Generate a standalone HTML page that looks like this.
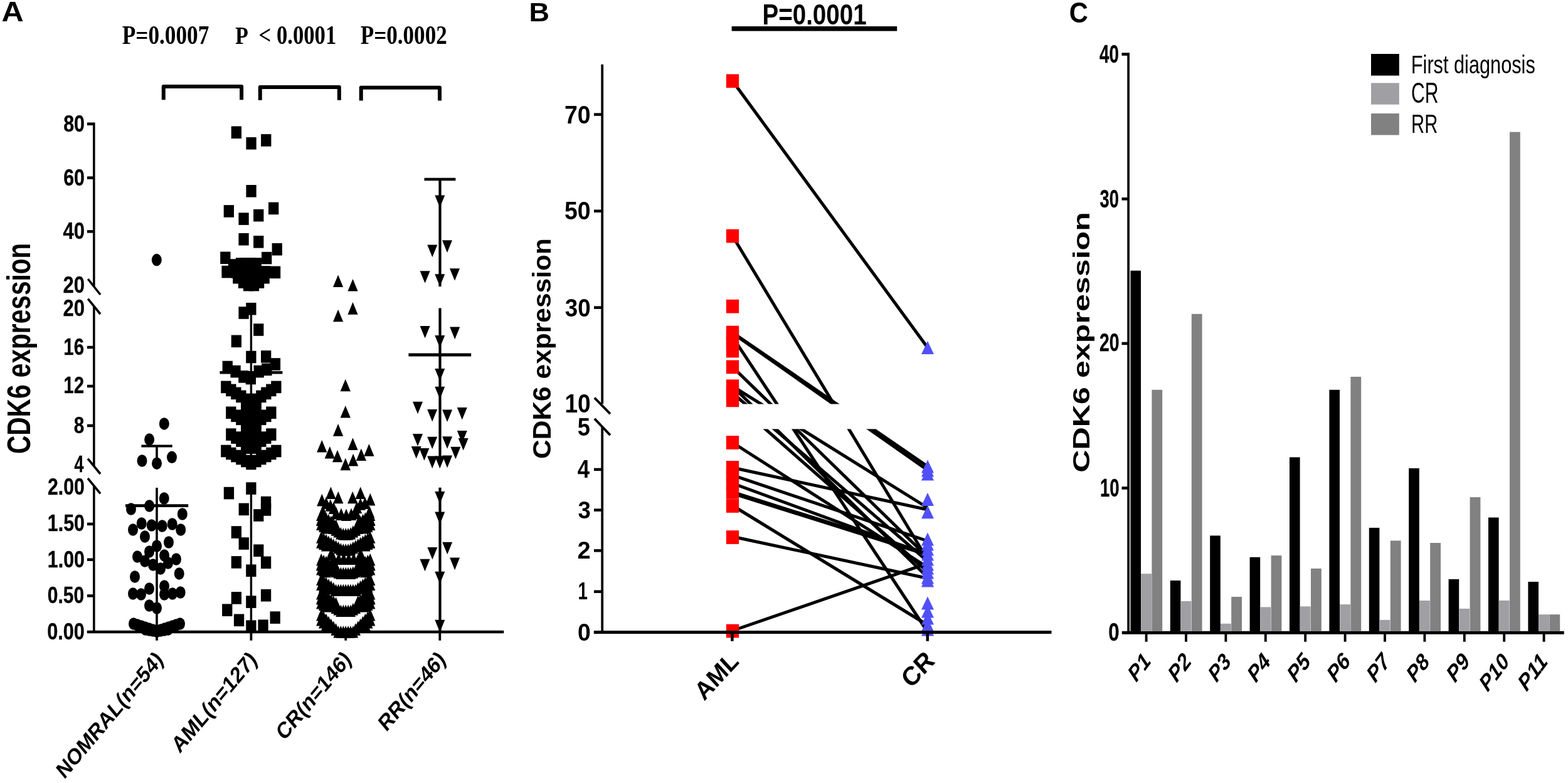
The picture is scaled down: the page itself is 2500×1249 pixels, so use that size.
<!DOCTYPE html>
<html><head><meta charset="utf-8"><title>CDK6 expression</title><style>html,body{margin:0;padding:0;background:#fff;overflow:hidden}svg{display:block}</style></head><body>
<svg width="2500" height="1249" viewBox="0 0 2500 1249">
<rect width="2500" height="1249" fill="#fff"/>
<g fill="#000">
<ellipse cx="249.8" cy="414.6" rx="8.0" ry="9.75"/>
<ellipse cx="261.8" cy="675.9" rx="8.0" ry="9.75"/>
<ellipse cx="238.1" cy="701.1" rx="8.0" ry="9.75"/>
<ellipse cx="226.5" cy="735.0" rx="8.0" ry="9.75"/>
<ellipse cx="250.0" cy="739.2" rx="8.0" ry="9.75"/>
<ellipse cx="274.0" cy="729.3" rx="8.0" ry="9.75"/>
<ellipse cx="261.7" cy="795.0" rx="8.0" ry="9.75"/>
<ellipse cx="238.1" cy="807.0" rx="8.0" ry="9.75"/>
<ellipse cx="209.0" cy="812.0" rx="8.0" ry="9.75"/>
<ellipse cx="290.8" cy="820.0" rx="8.0" ry="9.75"/>
<ellipse cx="225.7" cy="835.0" rx="8.0" ry="9.75"/>
<ellipse cx="241.7" cy="838.0" rx="8.0" ry="9.75"/>
<ellipse cx="258.7" cy="839.0" rx="8.0" ry="9.75"/>
<ellipse cx="274.7" cy="836.0" rx="8.0" ry="9.75"/>
<ellipse cx="212.0" cy="845.0" rx="8.0" ry="9.75"/>
<ellipse cx="288.2" cy="845.0" rx="8.0" ry="9.75"/>
<ellipse cx="231.0" cy="856.0" rx="8.0" ry="9.75"/>
<ellipse cx="269.0" cy="865.0" rx="8.0" ry="9.75"/>
<ellipse cx="250.0" cy="871.0" rx="8.0" ry="9.75"/>
<ellipse cx="238.0" cy="880.0" rx="8.0" ry="9.75"/>
<ellipse cx="219.0" cy="888.0" rx="8.0" ry="9.75"/>
<ellipse cx="262.0" cy="886.0" rx="8.0" ry="9.75"/>
<ellipse cx="281.0" cy="892.0" rx="8.0" ry="9.75"/>
<ellipse cx="231.0" cy="895.0" rx="8.0" ry="9.75"/>
<ellipse cx="244.0" cy="901.0" rx="8.0" ry="9.75"/>
<ellipse cx="268.0" cy="898.0" rx="8.0" ry="9.75"/>
<ellipse cx="256.0" cy="907.0" rx="8.0" ry="9.75"/>
<ellipse cx="215.0" cy="920.0" rx="8.0" ry="9.75"/>
<ellipse cx="285.7" cy="915.0" rx="8.0" ry="9.75"/>
<ellipse cx="238.0" cy="939.0" rx="8.0" ry="9.75"/>
<ellipse cx="262.0" cy="935.0" rx="8.0" ry="9.75"/>
<ellipse cx="212.0" cy="947.0" rx="8.0" ry="9.75"/>
<ellipse cx="225.0" cy="948.0" rx="8.0" ry="9.75"/>
<ellipse cx="262.0" cy="948.0" rx="8.0" ry="9.75"/>
<ellipse cx="275.0" cy="947.0" rx="8.0" ry="9.75"/>
<ellipse cx="287.7" cy="945.0" rx="8.0" ry="9.75"/>
<ellipse cx="238.0" cy="966.0" rx="8.0" ry="9.75"/>
<ellipse cx="250.0" cy="970.0" rx="8.0" ry="9.75"/>
<ellipse cx="213.0" cy="995.0" rx="8.0" ry="9.75"/>
<ellipse cx="219.2" cy="997.0" rx="8.0" ry="9.75"/>
<ellipse cx="225.3" cy="999.0" rx="8.0" ry="9.75"/>
<ellipse cx="231.5" cy="1001.0" rx="8.0" ry="9.75"/>
<ellipse cx="237.7" cy="1003.0" rx="8.0" ry="9.75"/>
<ellipse cx="243.8" cy="1005.0" rx="8.0" ry="9.75"/>
<ellipse cx="250.0" cy="1007.0" rx="8.0" ry="9.75"/>
<ellipse cx="256.2" cy="1005.0" rx="8.0" ry="9.75"/>
<ellipse cx="262.3" cy="1003.0" rx="8.0" ry="9.75"/>
<ellipse cx="268.5" cy="1001.0" rx="8.0" ry="9.75"/>
<ellipse cx="274.7" cy="999.0" rx="8.0" ry="9.75"/>
<ellipse cx="280.8" cy="997.0" rx="8.0" ry="9.75"/>
<ellipse cx="287.0" cy="995.0" rx="8.0" ry="9.75"/>
<ellipse cx="232.0" cy="1004.0" rx="8.0" ry="9.75"/>
<ellipse cx="238.0" cy="1005.0" rx="8.0" ry="9.75"/>
<ellipse cx="244.0" cy="1006.0" rx="8.0" ry="9.75"/>
<ellipse cx="250.0" cy="1007.0" rx="8.0" ry="9.75"/>
<ellipse cx="256.0" cy="1006.0" rx="8.0" ry="9.75"/>
<ellipse cx="262.0" cy="1005.0" rx="8.0" ry="9.75"/>
<ellipse cx="268.0" cy="1004.0" rx="8.0" ry="9.75"/>
<rect x="368.7" y="201.4" width="16.3" height="19.6"/>
<rect x="392.4" y="218.9" width="16.3" height="19.6"/>
<rect x="416.1" y="214.0" width="16.3" height="19.6"/>
<rect x="392.4" y="295.0" width="16.3" height="19.6"/>
<rect x="356.7" y="327.1" width="16.3" height="19.6"/>
<rect x="380.4" y="339.3" width="16.3" height="19.6"/>
<rect x="404.1" y="333.8" width="16.3" height="19.6"/>
<rect x="428.0" y="322.6" width="16.3" height="19.6"/>
<rect x="380.4" y="371.9" width="16.3" height="19.6"/>
<rect x="404.1" y="376.0" width="16.3" height="19.6"/>
<rect x="433.6" y="387.9" width="16.3" height="19.6"/>
<rect x="351.2" y="401.5" width="16.3" height="19.6"/>
<rect x="417.0" y="401.8" width="16.3" height="19.6"/>
<rect x="363.9" y="413.2" width="16.3" height="19.6"/>
<rect x="375.9" y="411.2" width="16.3" height="19.6"/>
<rect x="383.9" y="411.2" width="16.3" height="19.6"/>
<rect x="391.9" y="411.2" width="16.3" height="19.6"/>
<rect x="400.6" y="411.2" width="16.3" height="19.6"/>
<rect x="353.4" y="423.8" width="16.3" height="19.6"/>
<rect x="368.9" y="424.2" width="16.3" height="19.6"/>
<rect x="384.9" y="424.2" width="16.3" height="19.6"/>
<rect x="400.9" y="424.2" width="16.3" height="19.6"/>
<rect x="414.9" y="424.2" width="16.3" height="19.6"/>
<rect x="430.9" y="424.6" width="16.3" height="19.6"/>
<rect x="371.2" y="432.9" width="16.3" height="19.6"/>
<rect x="413.5" y="432.9" width="16.3" height="19.6"/>
<rect x="379.9" y="440.3" width="16.3" height="19.6"/>
<rect x="404.9" y="440.3" width="16.3" height="19.6"/>
<rect x="387.9" y="444.8" width="16.3" height="19.6"/>
<rect x="396.8" y="444.8" width="16.3" height="19.6"/>
<rect x="391.9" y="430.2" width="16.3" height="19.6"/>
<rect x="392.2" y="482.9" width="16.3" height="19.6"/>
<rect x="380.4" y="489.2" width="16.3" height="19.6"/>
<rect x="404.1" y="516.2" width="16.3" height="19.6"/>
<rect x="368.7" y="534.5" width="16.3" height="19.6"/>
<rect x="392.2" y="559.7" width="16.3" height="19.6"/>
<rect x="416.0" y="559.1" width="16.3" height="19.6"/>
<rect x="430.8" y="571.2" width="16.3" height="19.6"/>
<rect x="354.6" y="575.7" width="16.3" height="19.6"/>
<rect x="367.4" y="582.8" width="16.3" height="19.6"/>
<rect x="380.2" y="591.1" width="16.3" height="19.6"/>
<rect x="391.7" y="593.7" width="16.3" height="19.6"/>
<rect x="404.5" y="582.8" width="16.3" height="19.6"/>
<rect x="417.2" y="579.6" width="16.3" height="19.6"/>
<rect x="352.2" y="607.6" width="16.3" height="19.6"/>
<rect x="432.2" y="607.6" width="16.3" height="19.6"/>
<rect x="360.2" y="612.6" width="16.3" height="19.6"/>
<rect x="424.2" y="612.6" width="16.3" height="19.6"/>
<rect x="368.2" y="617.6" width="16.3" height="19.6"/>
<rect x="416.2" y="617.6" width="16.3" height="19.6"/>
<rect x="376.2" y="622.6" width="16.3" height="19.6"/>
<rect x="408.2" y="622.6" width="16.3" height="19.6"/>
<rect x="384.2" y="627.6" width="16.3" height="19.6"/>
<rect x="400.2" y="627.6" width="16.3" height="19.6"/>
<rect x="392.2" y="632.6" width="16.3" height="19.6"/>
<rect x="360.2" y="648.5" width="16.3" height="19.6"/>
<rect x="424.2" y="648.5" width="16.3" height="19.6"/>
<rect x="368.2" y="653.5" width="16.3" height="19.6"/>
<rect x="416.2" y="653.5" width="16.3" height="19.6"/>
<rect x="376.2" y="658.5" width="16.3" height="19.6"/>
<rect x="408.2" y="658.5" width="16.3" height="19.6"/>
<rect x="384.2" y="663.5" width="16.3" height="19.6"/>
<rect x="400.2" y="663.5" width="16.3" height="19.6"/>
<rect x="392.2" y="668.5" width="16.3" height="19.6"/>
<rect x="360.2" y="683.3" width="16.3" height="19.6"/>
<rect x="424.2" y="683.3" width="16.3" height="19.6"/>
<rect x="368.2" y="688.3" width="16.3" height="19.6"/>
<rect x="416.2" y="688.3" width="16.3" height="19.6"/>
<rect x="376.2" y="693.3" width="16.3" height="19.6"/>
<rect x="408.2" y="693.3" width="16.3" height="19.6"/>
<rect x="384.2" y="698.3" width="16.3" height="19.6"/>
<rect x="400.2" y="698.3" width="16.3" height="19.6"/>
<rect x="392.2" y="703.3" width="16.3" height="19.6"/>
<rect x="352.2" y="709.7" width="16.3" height="19.6"/>
<rect x="432.2" y="709.7" width="16.3" height="19.6"/>
<rect x="360.2" y="713.7" width="16.3" height="19.6"/>
<rect x="424.2" y="713.7" width="16.3" height="19.6"/>
<rect x="368.2" y="717.7" width="16.3" height="19.6"/>
<rect x="416.2" y="717.7" width="16.3" height="19.6"/>
<rect x="376.2" y="721.7" width="16.3" height="19.6"/>
<rect x="408.2" y="721.7" width="16.3" height="19.6"/>
<rect x="384.2" y="725.7" width="16.3" height="19.6"/>
<rect x="400.2" y="725.7" width="16.3" height="19.6"/>
<rect x="392.2" y="729.7" width="16.3" height="19.6"/>
<rect x="384.2" y="632.2" width="16.3" height="19.6"/>
<rect x="392.2" y="632.2" width="16.3" height="19.6"/>
<rect x="400.2" y="632.2" width="16.3" height="19.6"/>
<rect x="384.2" y="640.2" width="16.3" height="19.6"/>
<rect x="392.2" y="640.2" width="16.3" height="19.6"/>
<rect x="400.2" y="640.2" width="16.3" height="19.6"/>
<rect x="384.2" y="648.2" width="16.3" height="19.6"/>
<rect x="392.2" y="648.2" width="16.3" height="19.6"/>
<rect x="400.2" y="648.2" width="16.3" height="19.6"/>
<rect x="384.2" y="656.2" width="16.3" height="19.6"/>
<rect x="392.2" y="656.2" width="16.3" height="19.6"/>
<rect x="400.2" y="656.2" width="16.3" height="19.6"/>
<rect x="384.2" y="664.2" width="16.3" height="19.6"/>
<rect x="392.2" y="664.2" width="16.3" height="19.6"/>
<rect x="400.2" y="664.2" width="16.3" height="19.6"/>
<rect x="384.2" y="672.2" width="16.3" height="19.6"/>
<rect x="392.2" y="672.2" width="16.3" height="19.6"/>
<rect x="400.2" y="672.2" width="16.3" height="19.6"/>
<rect x="384.2" y="680.2" width="16.3" height="19.6"/>
<rect x="392.2" y="680.2" width="16.3" height="19.6"/>
<rect x="400.2" y="680.2" width="16.3" height="19.6"/>
<rect x="384.2" y="688.2" width="16.3" height="19.6"/>
<rect x="392.2" y="688.2" width="16.3" height="19.6"/>
<rect x="400.2" y="688.2" width="16.3" height="19.6"/>
<rect x="384.2" y="696.2" width="16.3" height="19.6"/>
<rect x="392.2" y="696.2" width="16.3" height="19.6"/>
<rect x="400.2" y="696.2" width="16.3" height="19.6"/>
<rect x="384.2" y="704.2" width="16.3" height="19.6"/>
<rect x="392.2" y="704.2" width="16.3" height="19.6"/>
<rect x="400.2" y="704.2" width="16.3" height="19.6"/>
<rect x="356.8" y="776.8" width="16.3" height="19.6"/>
<rect x="392.2" y="769.3" width="16.3" height="19.6"/>
<rect x="415.9" y="791.8" width="16.3" height="19.6"/>
<rect x="380.6" y="802.6" width="16.3" height="19.6"/>
<rect x="415.9" y="803.2" width="16.3" height="19.6"/>
<rect x="404.1" y="812.2" width="16.3" height="19.6"/>
<rect x="368.7" y="839.2" width="16.3" height="19.6"/>
<rect x="380.6" y="857.2" width="16.3" height="19.6"/>
<rect x="404.1" y="868.4" width="16.3" height="19.6"/>
<rect x="368.7" y="887.1" width="16.3" height="19.6"/>
<rect x="415.9" y="887.5" width="16.3" height="19.6"/>
<rect x="392.2" y="900.4" width="16.3" height="19.6"/>
<rect x="415.9" y="939.9" width="16.3" height="19.6"/>
<rect x="368.7" y="944.1" width="16.3" height="19.6"/>
<rect x="392.2" y="950.3" width="16.3" height="19.6"/>
<rect x="354.1" y="963.4" width="16.3" height="19.6"/>
<rect x="430.5" y="975.3" width="16.3" height="19.6"/>
<rect x="372.9" y="979.5" width="16.3" height="19.6"/>
<rect x="392.2" y="989.4" width="16.3" height="19.6"/>
<rect x="411.4" y="988.4" width="16.3" height="19.6"/>
<path d="M539.1,438.5 L547.2,458.1 L531.0,458.1Z"/>
<path d="M562.5,444.9 L570.6,464.5 L554.4,464.5Z"/>
<path d="M562.5,482.1 L570.6,501.7 L554.4,501.7Z"/>
<path d="M539.1,493.7 L547.2,513.3 L531.0,513.3Z"/>
<path d="M550.8,604.7 L558.9,624.3 L542.6,624.3Z"/>
<path d="M550.8,646.9 L558.9,666.5 L542.6,666.5Z"/>
<path d="M539.1,676.1 L547.2,695.7 L531.0,695.7Z"/>
<path d="M513.2,702.0 L521.4,721.6 L505.1,721.6Z"/>
<path d="M562.5,698.3 L570.6,717.9 L554.4,717.9Z"/>
<path d="M525.8,711.9 L533.9,731.5 L517.6,731.5Z"/>
<path d="M538.0,717.7 L546.1,737.3 L529.9,737.3Z"/>
<path d="M588.4,708.1 L596.5,727.7 L580.2,727.7Z"/>
<path d="M575.9,715.5 L584.0,735.1 L567.8,735.1Z"/>
<path d="M563.1,723.8 L571.2,743.4 L555.0,743.4Z"/>
<path d="M550.8,730.6 L558.9,750.2 L542.6,750.2Z"/>
<path d="M512.2,818.4 L520.4,838.0 L504.1,838.0Z"/>
<path d="M516.1,821.2 L524.2,840.8 L508.0,840.8Z"/>
<path d="M520.0,824.0 L528.1,843.6 L511.9,843.6Z"/>
<path d="M523.9,826.8 L532.1,846.4 L515.8,846.4Z"/>
<path d="M527.8,829.6 L536.0,849.2 L519.7,849.2Z"/>
<path d="M531.7,832.4 L539.9,852.0 L523.6,852.0Z"/>
<path d="M535.6,835.2 L543.8,854.8 L527.5,854.8Z"/>
<path d="M539.5,838.0 L547.6,857.6 L531.4,857.6Z"/>
<path d="M543.4,840.8 L551.6,860.4 L535.3,860.4Z"/>
<path d="M547.3,841.9 L555.5,861.5 L539.2,861.5Z"/>
<path d="M551.2,841.9 L559.4,861.5 L543.1,861.5Z"/>
<path d="M555.1,841.9 L563.2,861.5 L547.0,861.5Z"/>
<path d="M559.0,840.8 L567.1,860.4 L550.9,860.4Z"/>
<path d="M562.9,838.0 L571.1,857.6 L554.8,857.6Z"/>
<path d="M566.8,835.2 L575.0,854.8 L558.7,854.8Z"/>
<path d="M570.7,832.4 L578.9,852.0 L562.6,852.0Z"/>
<path d="M574.6,829.6 L582.8,849.2 L566.5,849.2Z"/>
<path d="M578.5,826.8 L586.6,846.4 L570.4,846.4Z"/>
<path d="M582.4,824.0 L590.6,843.6 L574.3,843.6Z"/>
<path d="M586.3,821.2 L594.5,840.8 L578.2,840.8Z"/>
<path d="M590.2,818.4 L598.4,838.0 L582.1,838.0Z"/>
<path d="M512.2,826.4 L520.4,846.0 L504.1,846.0Z"/>
<path d="M516.1,829.2 L524.2,848.8 L508.0,848.8Z"/>
<path d="M520.0,832.0 L528.1,851.6 L511.9,851.6Z"/>
<path d="M582.4,832.0 L590.6,851.6 L574.3,851.6Z"/>
<path d="M586.3,829.2 L594.5,848.8 L578.2,848.8Z"/>
<path d="M590.2,826.4 L598.4,846.0 L582.1,846.0Z"/>
<path d="M512.2,847.1 L520.4,866.7 L504.1,866.7Z"/>
<path d="M516.1,849.5 L524.2,869.1 L508.0,869.1Z"/>
<path d="M520.0,851.8 L528.1,871.4 L511.9,871.4Z"/>
<path d="M523.9,854.2 L532.1,873.8 L515.8,873.8Z"/>
<path d="M527.8,856.5 L536.0,876.1 L519.7,876.1Z"/>
<path d="M531.7,858.9 L539.9,878.5 L523.6,878.5Z"/>
<path d="M535.6,861.2 L543.8,880.8 L527.5,880.8Z"/>
<path d="M539.5,863.6 L547.6,883.2 L531.4,883.2Z"/>
<path d="M543.4,866.0 L551.6,885.6 L535.3,885.6Z"/>
<path d="M547.3,866.9 L555.5,886.5 L539.2,886.5Z"/>
<path d="M551.2,866.9 L559.4,886.5 L543.1,886.5Z"/>
<path d="M555.1,866.9 L563.2,886.5 L547.0,886.5Z"/>
<path d="M559.0,866.0 L567.1,885.6 L550.9,885.6Z"/>
<path d="M562.9,863.6 L571.1,883.2 L554.8,883.2Z"/>
<path d="M566.8,861.2 L575.0,880.8 L558.7,880.8Z"/>
<path d="M570.7,858.9 L578.9,878.5 L562.6,878.5Z"/>
<path d="M574.6,856.5 L582.8,876.1 L566.5,876.1Z"/>
<path d="M578.5,854.2 L586.6,873.8 L570.4,873.8Z"/>
<path d="M582.4,851.8 L590.6,871.4 L574.3,871.4Z"/>
<path d="M586.3,849.5 L594.5,869.1 L578.2,869.1Z"/>
<path d="M590.2,847.1 L598.4,866.7 L582.1,866.7Z"/>
<path d="M512.2,855.1 L520.4,874.7 L504.1,874.7Z"/>
<path d="M516.1,857.5 L524.2,877.1 L508.0,877.1Z"/>
<path d="M520.0,859.8 L528.1,879.4 L511.9,879.4Z"/>
<path d="M582.4,859.8 L590.6,879.4 L574.3,879.4Z"/>
<path d="M586.3,857.5 L594.5,877.1 L578.2,877.1Z"/>
<path d="M590.2,855.1 L598.4,874.7 L582.1,874.7Z"/>
<path d="M512.2,889.8 L520.4,909.4 L504.1,909.4Z"/>
<path d="M516.1,891.7 L524.2,911.3 L508.0,911.3Z"/>
<path d="M520.0,893.6 L528.1,913.2 L511.9,913.2Z"/>
<path d="M523.9,895.6 L532.1,915.2 L515.8,915.2Z"/>
<path d="M527.8,897.5 L536.0,917.1 L519.7,917.1Z"/>
<path d="M531.7,899.4 L539.9,919.0 L523.6,919.0Z"/>
<path d="M535.6,901.3 L543.8,920.9 L527.5,920.9Z"/>
<path d="M539.5,903.2 L547.6,922.8 L531.4,922.8Z"/>
<path d="M543.4,904.4 L551.6,924.0 L535.3,924.0Z"/>
<path d="M547.3,904.4 L555.5,924.0 L539.2,924.0Z"/>
<path d="M551.2,904.4 L559.4,924.0 L543.1,924.0Z"/>
<path d="M555.1,904.4 L563.2,924.0 L547.0,924.0Z"/>
<path d="M559.0,904.4 L567.1,924.0 L550.9,924.0Z"/>
<path d="M562.9,903.2 L571.1,922.8 L554.8,922.8Z"/>
<path d="M566.8,901.3 L575.0,920.9 L558.7,920.9Z"/>
<path d="M570.7,899.4 L578.9,919.0 L562.6,919.0Z"/>
<path d="M574.6,897.5 L582.8,917.1 L566.5,917.1Z"/>
<path d="M578.5,895.6 L586.6,915.2 L570.4,915.2Z"/>
<path d="M582.4,893.6 L590.6,913.2 L574.3,913.2Z"/>
<path d="M586.3,891.7 L594.5,911.3 L578.2,911.3Z"/>
<path d="M590.2,889.8 L598.4,909.4 L582.1,909.4Z"/>
<path d="M512.2,897.8 L520.4,917.4 L504.1,917.4Z"/>
<path d="M516.1,899.7 L524.2,919.3 L508.0,919.3Z"/>
<path d="M520.0,901.6 L528.1,921.2 L511.9,921.2Z"/>
<path d="M582.4,901.6 L590.6,921.2 L574.3,921.2Z"/>
<path d="M586.3,899.7 L594.5,919.3 L578.2,919.3Z"/>
<path d="M590.2,897.8 L598.4,917.4 L582.1,917.4Z"/>
<path d="M512.2,914.4 L520.4,934.0 L504.1,934.0Z"/>
<path d="M516.1,917.2 L524.2,936.8 L508.0,936.8Z"/>
<path d="M520.0,920.1 L528.1,939.7 L511.9,939.7Z"/>
<path d="M523.9,922.9 L532.1,942.5 L515.8,942.5Z"/>
<path d="M527.8,925.7 L536.0,945.3 L519.7,945.3Z"/>
<path d="M531.7,928.6 L539.9,948.2 L523.6,948.2Z"/>
<path d="M535.6,931.4 L543.8,951.0 L527.5,951.0Z"/>
<path d="M539.5,931.4 L547.6,951.0 L531.4,951.0Z"/>
<path d="M543.4,931.4 L551.6,951.0 L535.3,951.0Z"/>
<path d="M547.3,931.4 L555.5,951.0 L539.2,951.0Z"/>
<path d="M551.2,931.4 L559.4,951.0 L543.1,951.0Z"/>
<path d="M555.1,931.4 L563.2,951.0 L547.0,951.0Z"/>
<path d="M559.0,931.4 L567.1,951.0 L550.9,951.0Z"/>
<path d="M562.9,931.4 L571.1,951.0 L554.8,951.0Z"/>
<path d="M566.8,931.4 L575.0,951.0 L558.7,951.0Z"/>
<path d="M570.7,928.6 L578.9,948.2 L562.6,948.2Z"/>
<path d="M574.6,925.7 L582.8,945.3 L566.5,945.3Z"/>
<path d="M578.5,922.9 L586.6,942.5 L570.4,942.5Z"/>
<path d="M582.4,920.1 L590.6,939.7 L574.3,939.7Z"/>
<path d="M586.3,917.2 L594.5,936.8 L578.2,936.8Z"/>
<path d="M590.2,914.4 L598.4,934.0 L582.1,934.0Z"/>
<path d="M512.2,922.4 L520.4,942.0 L504.1,942.0Z"/>
<path d="M516.1,925.2 L524.2,944.8 L508.0,944.8Z"/>
<path d="M520.0,928.1 L528.1,947.7 L511.9,947.7Z"/>
<path d="M582.4,928.1 L590.6,947.7 L574.3,947.7Z"/>
<path d="M586.3,925.2 L594.5,944.8 L578.2,944.8Z"/>
<path d="M590.2,922.4 L598.4,942.0 L582.1,942.0Z"/>
<path d="M512.2,943.9 L520.4,963.5 L504.1,963.5Z"/>
<path d="M516.1,946.5 L524.2,966.1 L508.0,966.1Z"/>
<path d="M520.0,949.0 L528.1,968.6 L511.9,968.6Z"/>
<path d="M523.9,951.6 L532.1,971.2 L515.8,971.2Z"/>
<path d="M527.8,954.2 L536.0,973.8 L519.7,973.8Z"/>
<path d="M531.7,956.7 L539.9,976.3 L523.6,976.3Z"/>
<path d="M535.6,959.3 L543.8,978.9 L527.5,978.9Z"/>
<path d="M539.5,961.8 L547.6,981.4 L531.4,981.4Z"/>
<path d="M543.4,964.4 L551.6,984.0 L535.3,984.0Z"/>
<path d="M547.3,964.4 L555.5,984.0 L539.2,984.0Z"/>
<path d="M551.2,964.4 L559.4,984.0 L543.1,984.0Z"/>
<path d="M555.1,964.4 L563.2,984.0 L547.0,984.0Z"/>
<path d="M559.0,964.4 L567.1,984.0 L550.9,984.0Z"/>
<path d="M562.9,961.8 L571.1,981.4 L554.8,981.4Z"/>
<path d="M566.8,959.3 L575.0,978.9 L558.7,978.9Z"/>
<path d="M570.7,956.7 L578.9,976.3 L562.6,976.3Z"/>
<path d="M574.6,954.2 L582.8,973.8 L566.5,973.8Z"/>
<path d="M578.5,951.6 L586.6,971.2 L570.4,971.2Z"/>
<path d="M582.4,949.0 L590.6,968.6 L574.3,968.6Z"/>
<path d="M586.3,946.5 L594.5,966.1 L578.2,966.1Z"/>
<path d="M590.2,943.9 L598.4,963.5 L582.1,963.5Z"/>
<path d="M512.2,951.9 L520.4,971.5 L504.1,971.5Z"/>
<path d="M516.1,954.5 L524.2,974.1 L508.0,974.1Z"/>
<path d="M520.0,957.0 L528.1,976.6 L511.9,976.6Z"/>
<path d="M582.4,957.0 L590.6,976.6 L574.3,976.6Z"/>
<path d="M586.3,954.5 L594.5,974.1 L578.2,974.1Z"/>
<path d="M590.2,951.9 L598.4,971.5 L582.1,971.5Z"/>
<path d="M512.2,970.9 L520.4,990.5 L504.1,990.5Z"/>
<path d="M516.1,974.8 L524.2,994.4 L508.0,994.4Z"/>
<path d="M520.0,978.6 L528.1,998.2 L511.9,998.2Z"/>
<path d="M523.9,982.5 L532.1,1002.1 L515.8,1002.1Z"/>
<path d="M527.8,986.4 L536.0,1006.0 L519.7,1006.0Z"/>
<path d="M531.7,990.3 L539.9,1009.9 L523.6,1009.9Z"/>
<path d="M535.6,994.1 L543.8,1013.7 L527.5,1013.7Z"/>
<path d="M539.5,998.0 L547.6,1017.6 L531.4,1017.6Z"/>
<path d="M543.4,998.0 L551.6,1017.6 L535.3,1017.6Z"/>
<path d="M547.3,998.0 L555.5,1017.6 L539.2,1017.6Z"/>
<path d="M551.2,998.0 L559.4,1017.6 L543.1,1017.6Z"/>
<path d="M555.1,998.0 L563.2,1017.6 L547.0,1017.6Z"/>
<path d="M559.0,998.0 L567.1,1017.6 L550.9,1017.6Z"/>
<path d="M562.9,998.0 L571.1,1017.6 L554.8,1017.6Z"/>
<path d="M566.8,994.1 L575.0,1013.7 L558.7,1013.7Z"/>
<path d="M570.7,990.3 L578.9,1009.9 L562.6,1009.9Z"/>
<path d="M574.6,986.4 L582.8,1006.0 L566.5,1006.0Z"/>
<path d="M578.5,982.5 L586.6,1002.1 L570.4,1002.1Z"/>
<path d="M582.4,978.6 L590.6,998.2 L574.3,998.2Z"/>
<path d="M586.3,974.8 L594.5,994.4 L578.2,994.4Z"/>
<path d="M590.2,970.9 L598.4,990.5 L582.1,990.5Z"/>
<path d="M512.2,978.9 L520.4,998.5 L504.1,998.5Z"/>
<path d="M516.1,982.8 L524.2,1002.4 L508.0,1002.4Z"/>
<path d="M520.0,986.6 L528.1,1006.2 L511.9,1006.2Z"/>
<path d="M582.4,986.6 L590.6,1006.2 L574.3,1006.2Z"/>
<path d="M586.3,982.8 L594.5,1002.4 L578.2,1002.4Z"/>
<path d="M590.2,978.9 L598.4,998.5 L582.1,998.5Z"/>
<path d="M513.3,787.8 L521.4,807.4 L505.1,807.4Z"/>
<path d="M527.4,776.4 L535.5,796.0 L519.2,796.0Z"/>
<path d="M539.3,783.7 L547.4,803.3 L531.1,803.3Z"/>
<path d="M562.2,783.7 L570.4,803.3 L554.1,803.3Z"/>
<path d="M574.7,776.4 L582.9,796.0 L566.6,796.0Z"/>
<path d="M590.3,786.8 L598.4,806.4 L582.1,806.4Z"/>
<path d="M520.0,792.4 L528.1,812.0 L511.9,812.0Z"/>
<path d="M526.8,796.2 L534.9,815.8 L518.6,815.8Z"/>
<path d="M532.0,800.4 L540.1,820.0 L523.9,820.0Z"/>
<path d="M574.7,794.1 L582.9,813.7 L566.6,813.7Z"/>
<path d="M582.0,792.4 L590.1,812.0 L573.9,812.0Z"/>
<path d="M569.0,799.4 L577.1,819.0 L560.9,819.0Z"/>
<path d="M536.0,808.6 L544.1,828.2 L527.9,828.2Z"/>
<path d="M544.0,810.4 L552.1,830.0 L535.9,830.0Z"/>
<path d="M552.0,811.4 L560.1,831.0 L543.9,831.0Z"/>
<path d="M560.0,810.4 L568.1,830.0 L551.9,830.0Z"/>
<path d="M568.0,808.6 L576.1,828.2 L559.9,828.2Z"/>
<path d="M515.0,806.4 L523.1,826.0 L506.9,826.0Z"/>
<path d="M589.0,806.4 L597.1,826.0 L580.9,826.0Z"/>
<path d="M532.0,881.4 L540.1,901.0 L523.9,901.0Z"/>
<path d="M540.0,881.4 L548.1,901.0 L531.9,901.0Z"/>
<path d="M548.0,881.4 L556.1,901.0 L539.9,901.0Z"/>
<path d="M556.0,881.4 L564.1,901.0 L547.9,901.0Z"/>
<path d="M564.0,881.4 L572.1,901.0 L555.9,901.0Z"/>
<path d="M572.0,881.4 L580.1,901.0 L563.9,901.0Z"/>
<path d="M528.0,873.4 L536.1,893.0 L519.9,893.0Z"/>
<path d="M575.0,873.4 L583.1,893.0 L566.9,893.0Z"/>
<path d="M512.2,811.4 L520.4,831.0 L504.1,831.0Z"/>
<path d="M516.1,814.2 L524.2,833.8 L508.0,833.8Z"/>
<path d="M520.0,817.0 L528.1,836.6 L511.9,836.6Z"/>
<path d="M523.9,819.8 L532.1,839.4 L515.8,839.4Z"/>
<path d="M527.8,822.6 L536.0,842.2 L519.7,842.2Z"/>
<path d="M531.7,825.4 L539.9,845.0 L523.6,845.0Z"/>
<path d="M535.6,828.2 L543.8,847.8 L527.5,847.8Z"/>
<path d="M570.7,825.4 L578.9,845.0 L562.6,845.0Z"/>
<path d="M574.6,822.6 L582.8,842.2 L566.5,842.2Z"/>
<path d="M578.5,819.8 L586.6,839.4 L570.4,839.4Z"/>
<path d="M582.4,817.0 L590.6,836.6 L574.3,836.6Z"/>
<path d="M586.3,814.2 L594.5,833.8 L578.2,833.8Z"/>
<path d="M590.2,811.4 L598.4,831.0 L582.1,831.0Z"/>
<path d="M512.2,819.4 L520.4,839.0 L504.1,839.0Z"/>
<path d="M516.1,822.2 L524.2,841.8 L508.0,841.8Z"/>
<path d="M520.0,825.0 L528.1,844.6 L511.9,844.6Z"/>
<path d="M582.4,825.0 L590.6,844.6 L574.3,844.6Z"/>
<path d="M586.3,822.2 L594.5,841.8 L578.2,841.8Z"/>
<path d="M590.2,819.4 L598.4,839.0 L582.1,839.0Z"/>
<path d="M512.2,882.8 L520.4,902.4 L504.1,902.4Z"/>
<path d="M516.1,884.7 L524.2,904.3 L508.0,904.3Z"/>
<path d="M520.0,886.6 L528.1,906.2 L511.9,906.2Z"/>
<path d="M523.9,888.6 L532.1,908.2 L515.8,908.2Z"/>
<path d="M527.8,890.5 L536.0,910.1 L519.7,910.1Z"/>
<path d="M531.7,892.4 L539.9,912.0 L523.6,912.0Z"/>
<path d="M535.6,894.3 L543.8,913.9 L527.5,913.9Z"/>
<path d="M570.7,892.4 L578.9,912.0 L562.6,912.0Z"/>
<path d="M574.6,890.5 L582.8,910.1 L566.5,910.1Z"/>
<path d="M578.5,888.6 L586.6,908.2 L570.4,908.2Z"/>
<path d="M582.4,886.6 L590.6,906.2 L574.3,906.2Z"/>
<path d="M586.3,884.7 L594.5,904.3 L578.2,904.3Z"/>
<path d="M590.2,882.8 L598.4,902.4 L582.1,902.4Z"/>
<path d="M512.2,890.8 L520.4,910.4 L504.1,910.4Z"/>
<path d="M516.1,892.7 L524.2,912.3 L508.0,912.3Z"/>
<path d="M520.0,894.6 L528.1,914.2 L511.9,914.2Z"/>
<path d="M582.4,894.6 L590.6,914.2 L574.3,914.2Z"/>
<path d="M586.3,892.7 L594.5,912.3 L578.2,912.3Z"/>
<path d="M590.2,890.8 L598.4,910.4 L582.1,910.4Z"/>
<path d="M512.2,936.9 L520.4,956.5 L504.1,956.5Z"/>
<path d="M516.1,939.5 L524.2,959.1 L508.0,959.1Z"/>
<path d="M520.0,942.0 L528.1,961.6 L511.9,961.6Z"/>
<path d="M523.9,944.6 L532.1,964.2 L515.8,964.2Z"/>
<path d="M527.8,947.2 L536.0,966.8 L519.7,966.8Z"/>
<path d="M531.7,949.7 L539.9,969.3 L523.6,969.3Z"/>
<path d="M535.6,952.3 L543.8,971.9 L527.5,971.9Z"/>
<path d="M570.7,949.7 L578.9,969.3 L562.6,969.3Z"/>
<path d="M574.6,947.2 L582.8,966.8 L566.5,966.8Z"/>
<path d="M578.5,944.6 L586.6,964.2 L570.4,964.2Z"/>
<path d="M582.4,942.0 L590.6,961.6 L574.3,961.6Z"/>
<path d="M586.3,939.5 L594.5,959.1 L578.2,959.1Z"/>
<path d="M590.2,936.9 L598.4,956.5 L582.1,956.5Z"/>
<path d="M512.2,944.9 L520.4,964.5 L504.1,964.5Z"/>
<path d="M516.1,947.5 L524.2,967.1 L508.0,967.1Z"/>
<path d="M520.0,950.0 L528.1,969.6 L511.9,969.6Z"/>
<path d="M582.4,950.0 L590.6,969.6 L574.3,969.6Z"/>
<path d="M586.3,947.5 L594.5,967.1 L578.2,967.1Z"/>
<path d="M590.2,944.9 L598.4,964.5 L582.1,964.5Z"/>
<path d="M693.3,311.4 L709.3,311.4 L701.3,331.0Z"/>
<path d="M681.3,390.6 L697.3,390.6 L689.3,410.2Z"/>
<path d="M705.0,383.3 L721.0,383.3 L713.0,402.9Z"/>
<path d="M669.6,432.2 L685.6,432.2 L677.6,451.8Z"/>
<path d="M693.3,437.2 L709.3,437.2 L701.3,456.8Z"/>
<path d="M717.0,428.2 L733.0,428.2 L725.0,447.8Z"/>
<path d="M669.6,520.0 L685.6,520.0 L677.6,539.6Z"/>
<path d="M717.2,521.6 L733.2,521.6 L725.2,541.2Z"/>
<path d="M693.3,535.1 L709.3,535.1 L701.3,554.7Z"/>
<path d="M693.3,588.0 L709.3,588.0 L701.3,607.6Z"/>
<path d="M693.3,616.8 L709.3,616.8 L701.3,636.4Z"/>
<path d="M658.0,640.7 L674.0,640.7 L666.0,660.3Z"/>
<path d="M681.2,653.0 L697.2,653.0 L689.2,672.6Z"/>
<path d="M705.1,653.5 L721.1,653.5 L713.1,673.1Z"/>
<path d="M728.8,650.0 L744.8,650.0 L736.8,669.6Z"/>
<path d="M658.0,692.1 L674.0,692.1 L666.0,711.7Z"/>
<path d="M681.2,696.7 L697.2,696.7 L689.2,716.3Z"/>
<path d="M705.1,696.2 L721.1,696.2 L713.1,715.8Z"/>
<path d="M728.8,687.1 L744.8,687.1 L736.8,706.7Z"/>
<path d="M730.7,699.0 L746.7,699.0 L738.7,718.6Z"/>
<path d="M655.7,711.9 L671.7,711.9 L663.7,731.5Z"/>
<path d="M668.4,715.1 L684.4,715.1 L676.4,734.7Z"/>
<path d="M718.4,712.7 L734.4,712.7 L726.4,732.3Z"/>
<path d="M681.2,727.6 L697.2,727.6 L689.2,747.2Z"/>
<path d="M693.3,727.6 L709.3,727.6 L701.3,747.2Z"/>
<path d="M705.1,726.6 L721.1,726.6 L713.1,746.2Z"/>
<path d="M693.3,784.0 L709.3,784.0 L701.3,803.6Z"/>
<path d="M693.3,816.6 L709.3,816.6 L701.3,836.2Z"/>
<path d="M705.2,864.7 L721.2,864.7 L713.2,884.3Z"/>
<path d="M681.4,872.9 L697.4,872.9 L689.4,892.5Z"/>
<path d="M669.5,891.7 L685.5,891.7 L677.5,911.3Z"/>
<path d="M717.1,889.6 L733.1,889.6 L725.1,909.2Z"/>
<path d="M693.3,911.7 L709.3,911.7 L701.3,931.3Z"/>
<path d="M693.3,988.8 L709.3,988.8 L701.3,1008.4Z"/>
</g>
<text transform="translate(2.40,34.00) scale(0.12180,0.10909)" font-family='"Liberation Sans", Arial, sans-serif' font-weight="bold" font-style="normal" font-size="400" fill="#000">A</text>
<text transform="translate(194.80,70.32) scale(0.08810,0.10345)" font-family='"Liberation Serif", "Times New Roman", serif' font-weight="bold" font-style="normal" font-size="400" fill="#000">P=0.0007</text>
<text transform="translate(374.90,69.50) scale(0.08566,0.09885)" font-family='"Liberation Serif", "Times New Roman", serif' font-weight="bold" font-style="normal" font-size="400" fill="#000">P</text>
<text transform="translate(412.60,70.32) scale(0.08662,0.10345)" font-family='"Liberation Serif", "Times New Roman", serif' font-weight="bold" font-style="normal" font-size="400" fill="#000">&lt; 0.0001</text>
<text transform="translate(574.70,70.32) scale(0.08785,0.10345)" font-family='"Liberation Serif", "Times New Roman", serif' font-weight="bold" font-style="normal" font-size="400" fill="#000">P=0.0002</text>
<path d="M260.75,159.3 V138.1 H385.1 V159.3" fill="none" stroke="#000" stroke-width="6" stroke-linejoin="round"/>
<path d="M414.75,159.7 V139.0 H540.8 V159.7" fill="none" stroke="#000" stroke-width="6" stroke-linejoin="round"/>
<path d="M575.7,160.5 V139.65 H701.0 V160.5" fill="none" stroke="#000" stroke-width="6" stroke-linejoin="round"/>
<line x1="149.80" y1="195.60" x2="149.80" y2="457.30" stroke="#000" stroke-width="3.6" stroke-linecap="butt"/>
<line x1="149.80" y1="488.90" x2="149.80" y2="743.80" stroke="#000" stroke-width="3.6" stroke-linecap="butt"/>
<line x1="149.80" y1="775.20" x2="149.80" y2="1008.00" stroke="#000" stroke-width="3.6" stroke-linecap="butt"/>
<line x1="140.20" y1="445.00" x2="160.00" y2="470.00" stroke="#000" stroke-width="3.6" stroke-linecap="butt"/>
<line x1="140.20" y1="476.70" x2="160.00" y2="501.00" stroke="#000" stroke-width="3.6" stroke-linecap="butt"/>
<line x1="140.00" y1="731.60" x2="160.00" y2="756.00" stroke="#000" stroke-width="3.6" stroke-linecap="butt"/>
<line x1="140.00" y1="763.00" x2="160.00" y2="787.30" stroke="#000" stroke-width="3.6" stroke-linecap="butt"/>
<line x1="138.90" y1="197.70" x2="149.80" y2="197.70" stroke="#000" stroke-width="4.5" stroke-linecap="butt"/>
<line x1="138.90" y1="283.60" x2="149.80" y2="283.60" stroke="#000" stroke-width="4.5" stroke-linecap="butt"/>
<line x1="138.90" y1="369.30" x2="149.80" y2="369.30" stroke="#000" stroke-width="4.5" stroke-linecap="butt"/>
<line x1="138.90" y1="554.00" x2="149.80" y2="554.00" stroke="#000" stroke-width="4.5" stroke-linecap="butt"/>
<line x1="138.90" y1="616.00" x2="149.80" y2="616.00" stroke="#000" stroke-width="4.5" stroke-linecap="butt"/>
<line x1="138.90" y1="679.00" x2="149.80" y2="679.00" stroke="#000" stroke-width="4.5" stroke-linecap="butt"/>
<line x1="138.90" y1="835.90" x2="149.80" y2="835.90" stroke="#000" stroke-width="4.5" stroke-linecap="butt"/>
<line x1="138.90" y1="892.70" x2="149.80" y2="892.70" stroke="#000" stroke-width="4.5" stroke-linecap="butt"/>
<line x1="138.90" y1="950.40" x2="149.80" y2="950.40" stroke="#000" stroke-width="4.5" stroke-linecap="butt"/>
<line x1="138.80" y1="1008.00" x2="803.30" y2="1008.00" stroke="#000" stroke-width="4.6" stroke-linecap="butt"/>
<line x1="250.00" y1="1008.00" x2="250.00" y2="1021.70" stroke="#000" stroke-width="3.8" stroke-linecap="butt"/>
<line x1="400.40" y1="1008.00" x2="400.40" y2="1021.70" stroke="#000" stroke-width="3.8" stroke-linecap="butt"/>
<line x1="551.20" y1="1008.00" x2="551.20" y2="1021.70" stroke="#000" stroke-width="3.8" stroke-linecap="butt"/>
<line x1="701.30" y1="1008.00" x2="701.30" y2="1021.70" stroke="#000" stroke-width="3.8" stroke-linecap="butt"/>
<text transform="translate(101.15,209.71) scale(0.07596,0.09394)" font-family='"Liberation Sans", Arial, sans-serif' font-weight="bold" font-style="normal" font-size="400" fill="#000" stroke="#000" stroke-width="3.53" stroke-linejoin="round">80</text>
<text transform="translate(101.15,295.96) scale(0.07596,0.09394)" font-family='"Liberation Sans", Arial, sans-serif' font-weight="bold" font-style="normal" font-size="400" fill="#000" stroke="#000" stroke-width="3.53" stroke-linejoin="round">60</text>
<text transform="translate(100.45,381.46) scale(0.07753,0.09394)" font-family='"Liberation Sans", Arial, sans-serif' font-weight="bold" font-style="normal" font-size="400" fill="#000" stroke="#000" stroke-width="3.50" stroke-linejoin="round">40</text>
<text transform="translate(100.45,467.46) scale(0.07753,0.09394)" font-family='"Liberation Sans", Arial, sans-serif' font-weight="bold" font-style="normal" font-size="400" fill="#000" stroke="#000" stroke-width="3.50" stroke-linejoin="round">20</text>
<text transform="translate(100.45,503.56) scale(0.07753,0.09394)" font-family='"Liberation Sans", Arial, sans-serif' font-weight="bold" font-style="normal" font-size="400" fill="#000" stroke="#000" stroke-width="3.50" stroke-linejoin="round">20</text>
<text transform="translate(101.35,565.96) scale(0.07371,0.09394)" font-family='"Liberation Sans", Arial, sans-serif' font-weight="bold" font-style="normal" font-size="400" fill="#000" stroke="#000" stroke-width="3.58" stroke-linejoin="round">16</text>
<text transform="translate(101.35,627.40) scale(0.07371,0.09194)" font-family='"Liberation Sans", Arial, sans-serif' font-weight="bold" font-style="normal" font-size="400" fill="#000" stroke="#000" stroke-width="3.62" stroke-linejoin="round">12</text>
<text transform="translate(117.65,690.66) scale(0.07432,0.09394)" font-family='"Liberation Sans", Arial, sans-serif' font-weight="bold" font-style="normal" font-size="400" fill="#000" stroke="#000" stroke-width="3.57" stroke-linejoin="round">8</text>
<text transform="translate(118.45,752.70) scale(0.06712,0.09036)" font-family='"Liberation Sans", Arial, sans-serif' font-weight="bold" font-style="normal" font-size="400" fill="#000" stroke="#000" stroke-width="3.81" stroke-linejoin="round">4</text>
<text transform="translate(76.05,789.26) scale(0.07561,0.09394)" font-family='"Liberation Sans", Arial, sans-serif' font-weight="bold" font-style="normal" font-size="400" fill="#000" stroke="#000" stroke-width="3.54" stroke-linejoin="round">2.00</text>
<text transform="translate(75.85,847.06) scale(0.07587,0.09394)" font-family='"Liberation Sans", Arial, sans-serif' font-weight="bold" font-style="normal" font-size="400" fill="#000" stroke="#000" stroke-width="3.53" stroke-linejoin="round">1.50</text>
<text transform="translate(75.85,904.66) scale(0.07587,0.09394)" font-family='"Liberation Sans", Arial, sans-serif' font-weight="bold" font-style="normal" font-size="400" fill="#000" stroke="#000" stroke-width="3.53" stroke-linejoin="round">1.00</text>
<text transform="translate(75.85,962.46) scale(0.07484,0.09394)" font-family='"Liberation Sans", Arial, sans-serif' font-weight="bold" font-style="normal" font-size="400" fill="#000" stroke="#000" stroke-width="3.55" stroke-linejoin="round">0.50</text>
<text transform="translate(75.25,1020.36) scale(0.07664,0.09394)" font-family='"Liberation Sans", Arial, sans-serif' font-weight="bold" font-style="normal" font-size="400" fill="#000" stroke="#000" stroke-width="3.52" stroke-linejoin="round">0.00</text>
<text transform="translate(47.69,724.10) rotate(-90) scale(0.10163,0.12859)" font-family='"Liberation Sans", Arial, sans-serif' font-weight="bold" font-style="normal" font-size="400" fill="#000">CDK6 expression</text>
<line x1="250.00" y1="778.00" x2="250.00" y2="1008.00" stroke="#000" stroke-width="3.6"/>
<line x1="200.00" y1="806.70" x2="300.20" y2="806.70" stroke="#000" stroke-width="4.7"/>
<line x1="250.00" y1="711.50" x2="250.00" y2="741.00" stroke="#000" stroke-width="3.6"/>
<line x1="225.40" y1="711.50" x2="274.70" y2="711.50" stroke="#000" stroke-width="4.0"/>
<line x1="400.40" y1="415.70" x2="400.40" y2="457.00" stroke="#000" stroke-width="3.4"/>
<line x1="400.40" y1="489.00" x2="400.40" y2="741.00" stroke="#000" stroke-width="3.4"/>
<line x1="400.40" y1="775.50" x2="400.40" y2="1008.00" stroke="#000" stroke-width="3.4"/>
<line x1="375.00" y1="415.70" x2="425.00" y2="415.70" stroke="#000" stroke-width="4.0"/>
<line x1="350.50" y1="594.20" x2="450.40" y2="594.20" stroke="#000" stroke-width="4.5"/>
<line x1="701.50" y1="285.90" x2="701.50" y2="457.00" stroke="#000" stroke-width="4.2"/>
<line x1="701.50" y1="491.40" x2="701.50" y2="741.00" stroke="#000" stroke-width="4.2"/>
<line x1="701.50" y1="777.70" x2="701.50" y2="1008.00" stroke="#000" stroke-width="4.2"/>
<line x1="676.50" y1="285.90" x2="726.40" y2="285.90" stroke="#000" stroke-width="4.5"/>
<line x1="651.40" y1="566.00" x2="751.20" y2="566.00" stroke="#000" stroke-width="5.2"/>
<text transform="translate(102.48,1243.93) scale(0.8400,1) rotate(-45) scale(0.09099,0.09099)" font-family='"Liberation Sans", Arial, sans-serif' font-weight="bold" font-style="normal" font-size="400" fill="#000">NOMRAL(n=54)</text>
<text transform="translate(286.48,1203.02) scale(0.8400,1) rotate(-45) scale(0.09219,0.09219)" font-family='"Liberation Sans", Arial, sans-serif' font-weight="bold" font-style="normal" font-size="400" fill="#000">AML(n=127)</text>
<text transform="translate(453.11,1182.84) scale(0.8400,1) rotate(-45) scale(0.09178,0.09178)" font-family='"Liberation Sans", Arial, sans-serif' font-weight="bold" font-style="normal" font-size="400" fill="#000">CR(n=146)</text>
<text transform="translate(616.05,1168.44) scale(0.8400,1) rotate(-45) scale(0.09152,0.09152)" font-family='"Liberation Sans", Arial, sans-serif' font-weight="bold" font-style="normal" font-size="400" fill="#000">RR(n=46)</text>
<text transform="translate(843.60,34.40) scale(0.11246,0.10764)" font-family='"Liberation Sans", Arial, sans-serif' font-weight="bold" font-style="normal" font-size="400" fill="#000">B</text>
<text transform="translate(1215.40,38.62) scale(0.09652,0.11478)" font-family='"Liberation Sans", Arial, sans-serif' font-weight="bold" font-style="normal" font-size="400" fill="#000">P=0.0001</text>
<line x1="1166.60" y1="45.70" x2="1430.20" y2="45.70" stroke="#000" stroke-width="7.4" stroke-linecap="butt"/>
<line x1="1168.00" y1="129.20" x2="1479.00" y2="554.60" stroke="#000" stroke-width="5" stroke-linecap="butt"/>
<line x1="1168.00" y1="376.50" x2="1479.00" y2="893.00" stroke="#000" stroke-width="5" stroke-linecap="butt"/>
<line x1="1168.00" y1="530.50" x2="1479.00" y2="744.00" stroke="#000" stroke-width="5" stroke-linecap="butt"/>
<line x1="1168.00" y1="531.50" x2="1479.00" y2="750.00" stroke="#000" stroke-width="5" stroke-linecap="butt"/>
<line x1="1168.00" y1="537.60" x2="1479.00" y2="1008.00" stroke="#000" stroke-width="5" stroke-linecap="butt"/>
<line x1="1168.00" y1="585.40" x2="1479.00" y2="888.70" stroke="#000" stroke-width="5" stroke-linecap="butt"/>
<line x1="1168.00" y1="616.20" x2="1479.00" y2="810.00" stroke="#000" stroke-width="5" stroke-linecap="butt"/>
<line x1="1168.00" y1="616.20" x2="1479.00" y2="921.00" stroke="#000" stroke-width="5" stroke-linecap="butt"/>
<line x1="1168.00" y1="627.00" x2="1479.00" y2="895.40" stroke="#000" stroke-width="5" stroke-linecap="butt"/>
<line x1="1168.00" y1="638.40" x2="1479.00" y2="912.00" stroke="#000" stroke-width="5" stroke-linecap="butt"/>
<line x1="1168.00" y1="706.00" x2="1479.00" y2="905.00" stroke="#000" stroke-width="5" stroke-linecap="butt"/>
<line x1="1168.00" y1="746.00" x2="1479.00" y2="813.00" stroke="#000" stroke-width="5" stroke-linecap="butt"/>
<line x1="1168.00" y1="758.00" x2="1479.00" y2="863.00" stroke="#000" stroke-width="5" stroke-linecap="butt"/>
<line x1="1168.00" y1="771.00" x2="1479.00" y2="885.00" stroke="#000" stroke-width="5" stroke-linecap="butt"/>
<line x1="1168.00" y1="785.00" x2="1479.00" y2="883.00" stroke="#000" stroke-width="5" stroke-linecap="butt"/>
<line x1="1168.00" y1="787.00" x2="1479.00" y2="885.00" stroke="#000" stroke-width="5" stroke-linecap="butt"/>
<line x1="1168.00" y1="806.50" x2="1479.00" y2="997.00" stroke="#000" stroke-width="5" stroke-linecap="butt"/>
<line x1="1168.00" y1="856.00" x2="1479.00" y2="922.50" stroke="#000" stroke-width="5" stroke-linecap="butt"/>
<line x1="1168.00" y1="1006.00" x2="1479.00" y2="898.70" stroke="#000" stroke-width="5" stroke-linecap="butt"/>
<rect x="963.00" y="644.50" width="717.00" height="39.90" fill="#fff"/>
<rect x="1157.85" y="118.35" width="20.30" height="21.70" fill="#f00"/>
<rect x="1157.85" y="365.65" width="20.30" height="21.70" fill="#f00"/>
<rect x="1157.85" y="477.85" width="20.30" height="21.70" fill="#f00"/>
<rect x="1157.85" y="519.65" width="20.30" height="21.70" fill="#f00"/>
<rect x="1157.85" y="526.75" width="20.30" height="21.70" fill="#f00"/>
<rect x="1157.85" y="537.65" width="20.30" height="21.70" fill="#f00"/>
<rect x="1157.85" y="548.75" width="20.30" height="21.70" fill="#f00"/>
<rect x="1157.85" y="574.55" width="20.30" height="21.70" fill="#f00"/>
<rect x="1157.85" y="605.35" width="20.30" height="21.70" fill="#f00"/>
<rect x="1157.85" y="616.15" width="20.30" height="21.70" fill="#f00"/>
<rect x="1157.85" y="627.55" width="20.30" height="21.70" fill="#f00"/>
<rect x="1157.85" y="695.15" width="20.30" height="21.70" fill="#f00"/>
<rect x="1157.85" y="735.15" width="20.30" height="21.70" fill="#f00"/>
<rect x="1157.85" y="747.15" width="20.30" height="21.70" fill="#f00"/>
<rect x="1157.85" y="760.15" width="20.30" height="21.70" fill="#f00"/>
<rect x="1157.85" y="774.15" width="20.30" height="21.70" fill="#f00"/>
<rect x="1157.85" y="796.15" width="20.30" height="21.70" fill="#f00"/>
<rect x="1157.85" y="846.15" width="20.30" height="21.70" fill="#f00"/>
<rect x="1157.85" y="995.65" width="20.30" height="21.70" fill="#f00"/>
<path d="M1479.0,544.1 L1489.0,565.1 L1469.0,565.1Z" fill="#5050f8"/>
<path d="M1479.0,733.5 L1489.0,754.5 L1469.0,754.5Z" fill="#5050f8"/>
<path d="M1479.0,739.5 L1489.0,760.5 L1469.0,760.5Z" fill="#5050f8"/>
<path d="M1479.0,745.5 L1489.0,766.5 L1469.0,766.5Z" fill="#5050f8"/>
<path d="M1479.0,786.0 L1489.0,807.0 L1469.0,807.0Z" fill="#5050f8"/>
<path d="M1479.0,806.2 L1489.0,827.2 L1469.0,827.2Z" fill="#5050f8"/>
<path d="M1479.0,849.5 L1489.0,870.5 L1469.0,870.5Z" fill="#5050f8"/>
<path d="M1479.0,857.5 L1489.0,878.5 L1469.0,878.5Z" fill="#5050f8"/>
<path d="M1479.0,865.5 L1489.0,886.5 L1469.0,886.5Z" fill="#5050f8"/>
<path d="M1479.0,873.5 L1489.0,894.5 L1469.0,894.5Z" fill="#5050f8"/>
<path d="M1479.0,881.5 L1489.0,902.5 L1469.0,902.5Z" fill="#5050f8"/>
<path d="M1479.0,889.5 L1489.0,910.5 L1469.0,910.5Z" fill="#5050f8"/>
<path d="M1479.0,895.5 L1489.0,916.5 L1469.0,916.5Z" fill="#5050f8"/>
<path d="M1479.0,902.5 L1489.0,923.5 L1469.0,923.5Z" fill="#5050f8"/>
<path d="M1479.0,910.5 L1489.0,931.5 L1469.0,931.5Z" fill="#5050f8"/>
<path d="M1479.0,915.5 L1489.0,936.5 L1469.0,936.5Z" fill="#5050f8"/>
<path d="M1479.0,951.5 L1489.0,972.5 L1469.0,972.5Z" fill="#5050f8"/>
<path d="M1479.0,964.5 L1489.0,985.5 L1469.0,985.5Z" fill="#5050f8"/>
<path d="M1479.0,975.5 L1489.0,996.5 L1469.0,996.5Z" fill="#5050f8"/>
<path d="M1479.0,986.5 L1489.0,1007.5 L1469.0,1007.5Z" fill="#5050f8"/>
<path d="M1479.0,993.5 L1489.0,1014.5 L1469.0,1014.5Z" fill="#5050f8"/>
<line x1="960.20" y1="102.80" x2="960.20" y2="644.20" stroke="#000" stroke-width="3.8" stroke-linecap="butt"/>
<line x1="960.20" y1="682.00" x2="960.20" y2="1008.40" stroke="#000" stroke-width="3.8" stroke-linecap="butt"/>
<line x1="947.90" y1="634.60" x2="972.90" y2="660.20" stroke="#000" stroke-width="3.8" stroke-linecap="butt"/>
<line x1="947.90" y1="667.90" x2="972.90" y2="694.10" stroke="#000" stroke-width="3.8" stroke-linecap="butt"/>
<line x1="947.00" y1="182.60" x2="960.20" y2="182.60" stroke="#000" stroke-width="4.5" stroke-linecap="butt"/>
<line x1="947.00" y1="336.70" x2="960.20" y2="336.70" stroke="#000" stroke-width="4.5" stroke-linecap="butt"/>
<line x1="947.00" y1="490.60" x2="960.20" y2="490.60" stroke="#000" stroke-width="4.5" stroke-linecap="butt"/>
<line x1="947.00" y1="748.90" x2="960.20" y2="748.90" stroke="#000" stroke-width="4.5" stroke-linecap="butt"/>
<line x1="947.00" y1="813.60" x2="960.20" y2="813.60" stroke="#000" stroke-width="4.5" stroke-linecap="butt"/>
<line x1="947.00" y1="878.30" x2="960.20" y2="878.30" stroke="#000" stroke-width="4.5" stroke-linecap="butt"/>
<line x1="947.00" y1="943.70" x2="960.20" y2="943.70" stroke="#000" stroke-width="4.5" stroke-linecap="butt"/>
<line x1="946.80" y1="1008.40" x2="1676.50" y2="1008.40" stroke="#000" stroke-width="5.0" stroke-linecap="butt"/>
<line x1="1167.40" y1="1008.40" x2="1167.40" y2="1022.70" stroke="#000" stroke-width="4.5" stroke-linecap="butt"/>
<line x1="1478.80" y1="1008.40" x2="1478.80" y2="1022.70" stroke="#000" stroke-width="4.5" stroke-linecap="butt"/>
<text transform="translate(900.00,196.57) scale(0.09371,0.10167)" font-family='"Liberation Sans", Arial, sans-serif' font-weight="bold" font-style="normal" font-size="400" fill="#000">70</text>
<text transform="translate(900.00,349.57) scale(0.09371,0.10167)" font-family='"Liberation Sans", Arial, sans-serif' font-weight="bold" font-style="normal" font-size="400" fill="#000">50</text>
<text transform="translate(900.80,504.86) scale(0.09191,0.10164)" font-family='"Liberation Sans", Arial, sans-serif' font-weight="bold" font-style="normal" font-size="400" fill="#000">30</text>
<text transform="translate(900.40,657.70) scale(0.09281,0.10646)" font-family='"Liberation Sans", Arial, sans-serif' font-weight="bold" font-style="normal" font-size="400" fill="#000">10</text>
<text transform="translate(920.70,695.40) scale(0.09099,0.10000)" font-family='"Liberation Sans", Arial, sans-serif' font-weight="bold" font-style="normal" font-size="400" fill="#000">5</text>
<text transform="translate(920.80,762.00) scale(0.08694,0.10000)" font-family='"Liberation Sans", Arial, sans-serif' font-weight="bold" font-style="normal" font-size="400" fill="#000">4</text>
<text transform="translate(921.40,826.86) scale(0.09144,0.09877)" font-family='"Liberation Sans", Arial, sans-serif' font-weight="bold" font-style="normal" font-size="400" fill="#000">3</text>
<text transform="translate(920.60,891.20) scale(0.09505,0.09642)" font-family='"Liberation Sans", Arial, sans-serif' font-weight="bold" font-style="normal" font-size="400" fill="#000">2</text>
<text transform="translate(921.40,956.30) scale(0.06937,0.09491)" font-family='"Liberation Sans", Arial, sans-serif' font-weight="bold" font-style="normal" font-size="400" fill="#000">1</text>
<text transform="translate(921.00,1021.99) scale(0.09324,0.09887)" font-family='"Liberation Sans", Arial, sans-serif' font-weight="bold" font-style="normal" font-size="400" fill="#000">0</text>
<text transform="translate(878.02,732.00) rotate(-90) scale(0.10628,0.10178)" font-family='"Liberation Sans", Arial, sans-serif' font-weight="bold" font-style="normal" font-size="400" fill="#000">CDK6 expression</text>
<text transform="translate(1122.87,1118.88) scale(0.9200,1) rotate(-45) scale(0.10098,0.10098)" font-family='"Liberation Sans", Arial, sans-serif' font-weight="bold" font-style="normal" font-size="400" fill="#000">AML</text>
<text transform="translate(1452.80,1099.23) scale(0.9200,1) rotate(-45) scale(0.10478,0.10478)" font-family='"Liberation Sans", Arial, sans-serif' font-weight="bold" font-style="normal" font-size="400" fill="#000">CR</text>
<text transform="translate(1704.70,35.99) scale(0.10415,0.11358)" font-family='"Liberation Sans", Arial, sans-serif' font-weight="bold" font-style="normal" font-size="400" fill="#000">C</text>
<line x1="1799.10" y1="84.10" x2="1799.10" y2="1009.10" stroke="#000" stroke-width="3.7" stroke-linecap="butt"/>
<line x1="1788.50" y1="86.50" x2="1799.10" y2="86.50" stroke="#000" stroke-width="4.6" stroke-linecap="butt"/>
<line x1="1788.50" y1="317.30" x2="1799.10" y2="317.30" stroke="#000" stroke-width="4.6" stroke-linecap="butt"/>
<line x1="1788.50" y1="547.90" x2="1799.10" y2="547.90" stroke="#000" stroke-width="4.6" stroke-linecap="butt"/>
<line x1="1788.50" y1="778.50" x2="1799.10" y2="778.50" stroke="#000" stroke-width="4.6" stroke-linecap="butt"/>
<line x1="1788.80" y1="1009.20" x2="2493.70" y2="1009.20" stroke="#000" stroke-width="4.9" stroke-linecap="butt"/>
<text transform="translate(1753.05,100.06) scale(0.06921,0.10273)" font-family='"Liberation Sans", Arial, sans-serif' font-weight="bold" font-style="normal" font-size="400" fill="#000" stroke="#000" stroke-width="3.49" stroke-linejoin="round">40</text>
<text transform="translate(1753.55,330.61) scale(0.06809,0.10274)" font-family='"Liberation Sans", Arial, sans-serif' font-weight="bold" font-style="normal" font-size="400" fill="#000" stroke="#000" stroke-width="3.51" stroke-linejoin="round">30</text>
<text transform="translate(1753.05,560.41) scale(0.07101,0.10273)" font-family='"Liberation Sans", Arial, sans-serif' font-weight="bold" font-style="normal" font-size="400" fill="#000" stroke="#000" stroke-width="3.45" stroke-linejoin="round">20</text>
<text transform="translate(1754.05,791.81) scale(0.06876,0.10273)" font-family='"Liberation Sans", Arial, sans-serif' font-weight="bold" font-style="normal" font-size="400" fill="#000" stroke="#000" stroke-width="3.50" stroke-linejoin="round">10</text>
<text transform="translate(1767.35,1021.61) scale(0.07793,0.10273)" font-family='"Liberation Sans", Arial, sans-serif' font-weight="bold" font-style="normal" font-size="400" fill="#000" stroke="#000" stroke-width="3.32" stroke-linejoin="round">0</text>
<rect x="1802.40" y="431.70" width="16.60" height="575.30" fill="#000"/>
<rect x="1819.20" y="915.20" width="16.80" height="91.80" fill="#a09fa4"/>
<rect x="1836.40" y="621.80" width="16.80" height="385.20" fill="#818181"/>
<rect x="1865.80" y="926.00" width="16.60" height="81.00" fill="#000"/>
<rect x="1882.60" y="958.90" width="16.80" height="48.10" fill="#a09fa4"/>
<rect x="1899.80" y="500.80" width="16.80" height="506.20" fill="#818181"/>
<rect x="1929.20" y="854.40" width="16.60" height="152.60" fill="#000"/>
<rect x="1946.00" y="994.80" width="16.80" height="12.20" fill="#a09fa4"/>
<rect x="1963.20" y="952.00" width="16.80" height="55.00" fill="#818181"/>
<rect x="1992.60" y="888.80" width="16.60" height="118.20" fill="#000"/>
<rect x="2009.40" y="968.40" width="16.80" height="38.60" fill="#a09fa4"/>
<rect x="2026.60" y="886.10" width="16.80" height="120.90" fill="#818181"/>
<rect x="2056.00" y="729.40" width="16.60" height="277.60" fill="#000"/>
<rect x="2072.80" y="967.30" width="16.80" height="39.70" fill="#a09fa4"/>
<rect x="2090.00" y="906.90" width="16.80" height="100.10" fill="#818181"/>
<rect x="2119.40" y="621.80" width="16.60" height="385.20" fill="#000"/>
<rect x="2136.20" y="964.10" width="16.80" height="42.90" fill="#a09fa4"/>
<rect x="2153.40" y="601.00" width="16.80" height="406.00" fill="#818181"/>
<rect x="2182.80" y="841.90" width="16.60" height="165.10" fill="#000"/>
<rect x="2199.60" y="988.90" width="16.80" height="18.10" fill="#a09fa4"/>
<rect x="2216.80" y="862.40" width="16.80" height="144.60" fill="#818181"/>
<rect x="2246.20" y="747.00" width="16.60" height="260.00" fill="#000"/>
<rect x="2263.00" y="958.00" width="16.80" height="49.00" fill="#a09fa4"/>
<rect x="2280.20" y="866.00" width="16.80" height="141.00" fill="#818181"/>
<rect x="2309.60" y="923.90" width="16.60" height="83.10" fill="#000"/>
<rect x="2326.40" y="970.90" width="16.80" height="36.10" fill="#a09fa4"/>
<rect x="2343.60" y="793.10" width="16.80" height="213.90" fill="#818181"/>
<rect x="2373.00" y="825.50" width="16.60" height="181.50" fill="#000"/>
<rect x="2389.80" y="957.90" width="16.80" height="49.10" fill="#a09fa4"/>
<rect x="2407.00" y="210.50" width="16.80" height="796.50" fill="#818181"/>
<rect x="2436.40" y="928.00" width="16.60" height="79.00" fill="#000"/>
<rect x="2453.20" y="980.20" width="16.80" height="26.80" fill="#a09fa4"/>
<rect x="2470.40" y="980.20" width="16.80" height="26.80" fill="#818181"/>
<line x1="1827.60" y1="1009.20" x2="1827.60" y2="1023.70" stroke="#000" stroke-width="3.9" stroke-linecap="butt"/>
<line x1="1891.00" y1="1009.20" x2="1891.00" y2="1023.70" stroke="#000" stroke-width="3.9" stroke-linecap="butt"/>
<line x1="1954.40" y1="1009.20" x2="1954.40" y2="1023.70" stroke="#000" stroke-width="3.9" stroke-linecap="butt"/>
<line x1="2017.80" y1="1009.20" x2="2017.80" y2="1023.70" stroke="#000" stroke-width="3.9" stroke-linecap="butt"/>
<line x1="2081.20" y1="1009.20" x2="2081.20" y2="1023.70" stroke="#000" stroke-width="3.9" stroke-linecap="butt"/>
<line x1="2144.60" y1="1009.20" x2="2144.60" y2="1023.70" stroke="#000" stroke-width="3.9" stroke-linecap="butt"/>
<line x1="2208.00" y1="1009.20" x2="2208.00" y2="1023.70" stroke="#000" stroke-width="3.9" stroke-linecap="butt"/>
<line x1="2271.40" y1="1009.20" x2="2271.40" y2="1023.70" stroke="#000" stroke-width="3.9" stroke-linecap="butt"/>
<line x1="2334.80" y1="1009.20" x2="2334.80" y2="1023.70" stroke="#000" stroke-width="3.9" stroke-linecap="butt"/>
<line x1="2398.20" y1="1009.20" x2="2398.20" y2="1023.70" stroke="#000" stroke-width="3.9" stroke-linecap="butt"/>
<line x1="2461.60" y1="1009.20" x2="2461.60" y2="1023.70" stroke="#000" stroke-width="3.9" stroke-linecap="butt"/>
<rect x="2186.00" y="86.00" width="44.80" height="34.60" fill="#000"/>
<rect x="2186.00" y="132.40" width="44.80" height="34.30" fill="#a09fa4"/>
<rect x="2186.00" y="181.00" width="44.80" height="34.40" fill="#818181"/>
<text transform="translate(2249.80,117.29) scale(0.07681,0.10273)" font-family='"Liberation Sans", Arial, sans-serif' font-weight="normal" font-style="normal" font-size="400" fill="#000">First diagnosis</text>
<text transform="translate(2250.00,164.49) scale(0.07543,0.11358)" font-family='"Liberation Sans", Arial, sans-serif' font-weight="normal" font-style="normal" font-size="400" fill="#000">CR</text>
<text transform="translate(2250.10,211.90) scale(0.07301,0.10800)" font-family='"Liberation Sans", Arial, sans-serif' font-weight="normal" font-style="normal" font-size="400" fill="#000">RR</text>
<text transform="translate(1737.02,753.70) rotate(-90) scale(0.12554,0.09144)" font-family='"Liberation Sans", Arial, sans-serif' font-weight="bold" font-style="normal" font-size="400" fill="#000">CDK6 expression</text>
<text transform="translate(1811.69,1089.35) scale(0.8500,1) rotate(-48.8) scale(0.09088,0.09088)" font-family='"Liberation Sans", Arial, sans-serif' font-weight="bold" font-style="italic" font-size="400" fill="#000">P1</text>
<text transform="translate(1875.94,1089.97) scale(0.8500,1) rotate(-48.8) scale(0.09264,0.09264)" font-family='"Liberation Sans", Arial, sans-serif' font-weight="bold" font-style="italic" font-size="400" fill="#000">P2</text>
<text transform="translate(1939.63,1089.71) scale(0.8500,1) rotate(-48.8) scale(0.09075,0.09075)" font-family='"Liberation Sans", Arial, sans-serif' font-weight="bold" font-style="italic" font-size="400" fill="#000">P3</text>
<text transform="translate(2002.45,1090.19) scale(0.8500,1) rotate(-48.8) scale(0.09187,0.09187)" font-family='"Liberation Sans", Arial, sans-serif' font-weight="bold" font-style="italic" font-size="400" fill="#000">P4</text>
<text transform="translate(2066.03,1090.29) scale(0.8500,1) rotate(-48.8) scale(0.09242,0.09242)" font-family='"Liberation Sans", Arial, sans-serif' font-weight="bold" font-style="italic" font-size="400" fill="#000">P5</text>
<text transform="translate(2129.49,1090.19) scale(0.8500,1) rotate(-48.8) scale(0.09285,0.09285)" font-family='"Liberation Sans", Arial, sans-serif' font-weight="bold" font-style="italic" font-size="400" fill="#000">P6</text>
<text transform="translate(2192.78,1090.50) scale(0.8500,1) rotate(-48.8) scale(0.09269,0.09269)" font-family='"Liberation Sans", Arial, sans-serif' font-weight="bold" font-style="italic" font-size="400" fill="#000">P7</text>
<text transform="translate(2255.98,1090.37) scale(0.8500,1) rotate(-48.8) scale(0.09142,0.09142)" font-family='"Liberation Sans", Arial, sans-serif' font-weight="bold" font-style="italic" font-size="400" fill="#000">P8</text>
<text transform="translate(2319.96,1090.18) scale(0.8500,1) rotate(-48.8) scale(0.09271,0.09271)" font-family='"Liberation Sans", Arial, sans-serif' font-weight="bold" font-style="italic" font-size="400" fill="#000">P9</text>
<text transform="translate(2372.07,1104.86) scale(0.8500,1) rotate(-48.8) scale(0.09072,0.09072)" font-family='"Liberation Sans", Arial, sans-serif' font-weight="bold" font-style="italic" font-size="400" fill="#000">P10</text>
<text transform="translate(2433.91,1104.21) scale(0.8500,1) rotate(-48.8) scale(0.09284,0.09284)" font-family='"Liberation Sans", Arial, sans-serif' font-weight="bold" font-style="italic" font-size="400" fill="#000">P11</text>
</svg>
</body></html>
